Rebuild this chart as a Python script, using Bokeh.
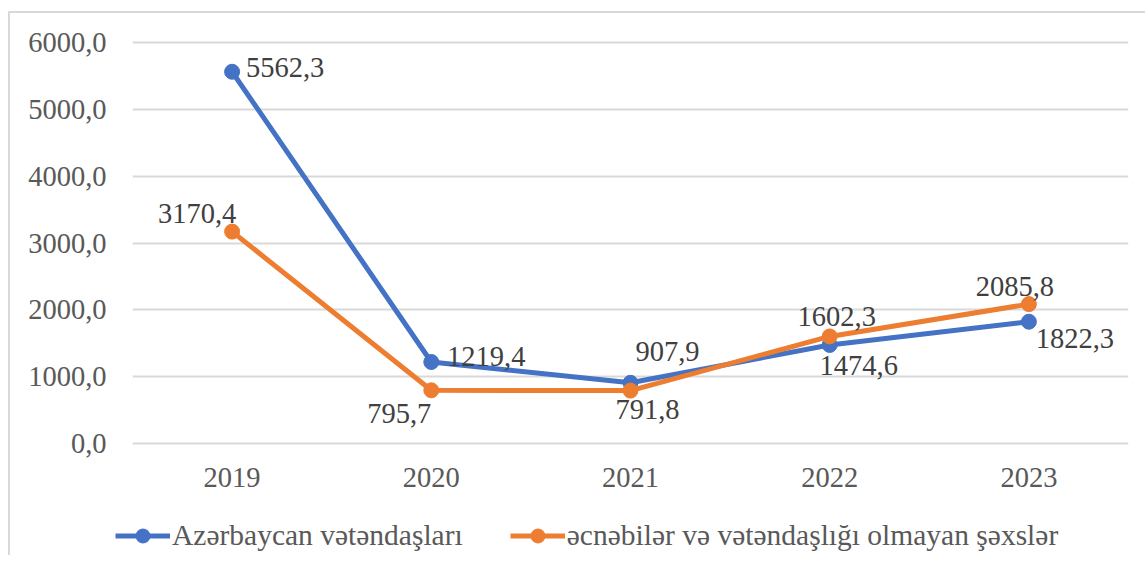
from bokeh.plotting import figure
from bokeh.layouts import column
from bokeh.models import (ColumnDataSource, FactorRange, Range1d, FixedTicker,
                          CustomJSTickFormatter, Legend, LegendItem)
from bokeh.embed import file_html
from bokeh.resources import INLINE
from bokeh.core.properties import value

# ---- data ----
years = ["2019", "2020", "2021", "2022", "2023"]
azerbaijan = [5562.3, 1219.4, 907.9, 1474.6, 1822.3]
foreigners = [3170.4, 795.7, 791.8, 1602.3, 2085.8]
series_names = ["Azərbaycan vətəndaşları", "əcnəbilər və vətəndaşlığı olmayan şəxslər"]
y_ticks = [0, 1000, 2000, 3000, 4000, 5000, 6000]

# ---- label placement (screen px offsets) ----
az_dx = [53, 55, 37, 29, 46]
az_dy = [-4, -6, -31, 21, 17]
fo_dx = [-35, -32, 17, 7, -14]
fo_dy = [-18, 23, 19, -20, -18]

BLUE = "#4472C4"
ORANGE = "#ED7D31"
FONT = "Liberation Serif"
FS = "28.5px"
FS_LEG = "29.5px"

def fmt(v):
    return f"{v:.1f}".replace(".", ",")

# ---------------- main chart ----------------
p = figure(width=1135, height=502, output_backend="svg", toolbar_location=None,
           x_range=FactorRange(*years), y_range=Range1d(-30, 6030),
           min_border_left=122, min_border_right=17, min_border_top=27,
           min_border_bottom=70)
p.outline_line_color = None
p.background_fill_color = "white"
p.border_fill_color = "white"

p.xgrid.grid_line_color = None
p.ygrid.grid_line_color = "#d9d9d9"
p.ygrid.grid_line_width = 2

p.yaxis.ticker = FixedTicker(ticks=y_ticks)
p.yaxis.formatter = CustomJSTickFormatter(code="return tick.toFixed(1).replace('.', ',');")
for ax in (p.xaxis[0], p.yaxis[0]):
    ax.axis_line_color = None
    ax.major_tick_line_color = None
    ax.minor_tick_line_color = None
    ax.major_tick_out = 0
    ax.major_tick_in = 0
    ax.major_label_text_font = FONT
    ax.major_label_text_font_size = FS
    ax.major_label_text_color = "#595959"
p.yaxis.major_label_standoff = 26
p.xaxis.major_label_standoff = 22

src_a = ColumnDataSource(dict(x=years, y=azerbaijan, t=[fmt(v) for v in azerbaijan],
                              dx=az_dx, dy=az_dy))
src_f = ColumnDataSource(dict(x=years, y=foreigners, t=[fmt(v) for v in foreigners],
                              dx=fo_dx, dy=fo_dy))

p.line("x", "y", source=src_a, line_color=BLUE, line_width=5)
p.scatter("x", "y", source=src_a, size=15, fill_color=BLUE, line_color=BLUE)
p.line("x", "y", source=src_f, line_color=ORANGE, line_width=5)
p.scatter("x", "y", source=src_f, size=15, fill_color=ORANGE, line_color=ORANGE)

for src in (src_a, src_f):
    p.text("x", "y", text="t", source=src, x_offset="dx", y_offset="dy",
           text_font=value(FONT), text_font_size=FS, text_color="#404040",
           text_align="center", text_baseline="middle")

# ---------------- legend strip ----------------
# same series drawn again, but outside the visible y-range: only their legend shows
q = figure(width=1135, height=40, output_backend="svg", toolbar_location=None,
           x_range=FactorRange(*years), y_range=Range1d(-2, -1),
           min_border=0, min_border_left=0, min_border_right=0,
           min_border_top=0, min_border_bottom=0)
q.axis.visible = False
q.grid.visible = False
q.outline_line_color = None
q.background_fill_color = "white"
q.border_fill_color = "white"

qa_l = q.line(years, azerbaijan, line_color=BLUE, line_width=5)
qa_s = q.scatter(years, azerbaijan, fill_color=BLUE, line_color=BLUE)
qf_l = q.line(years, foreigners, line_color=ORANGE, line_width=5)
qf_s = q.scatter(years, foreigners, fill_color=ORANGE, line_color=ORANGE)

aligned = "frame_align" in q.properties()
legend = Legend(items=[LegendItem(label=series_names[0], renderers=[qa_l, qa_s]),
                       LegendItem(label=series_names[1], renderers=[qf_l, qf_s])],
                orientation="horizontal", location=(105 if aligned else 0, 2),
                label_text_font=FONT, label_text_font_size=FS_LEG,
                label_text_color="#595959", glyph_width=55, glyph_height=35,
                label_height=35, label_standoff=2, spacing=47, padding=0,
                margin=0, border_line_color=None, background_fill_alpha=0)
q.add_layout(legend, "center")
if aligned:
    p.frame_align = False
    q.frame_align = False

layout = column(p, q, spacing=0,
                styles={"border-top": "2px solid #d9d9d9",
                        "border-left": "2px solid #d9d9d9",
                        "margin-top": "11px", "margin-left": "8px"})

open("out.html", "w").write(file_html(layout, INLINE))
